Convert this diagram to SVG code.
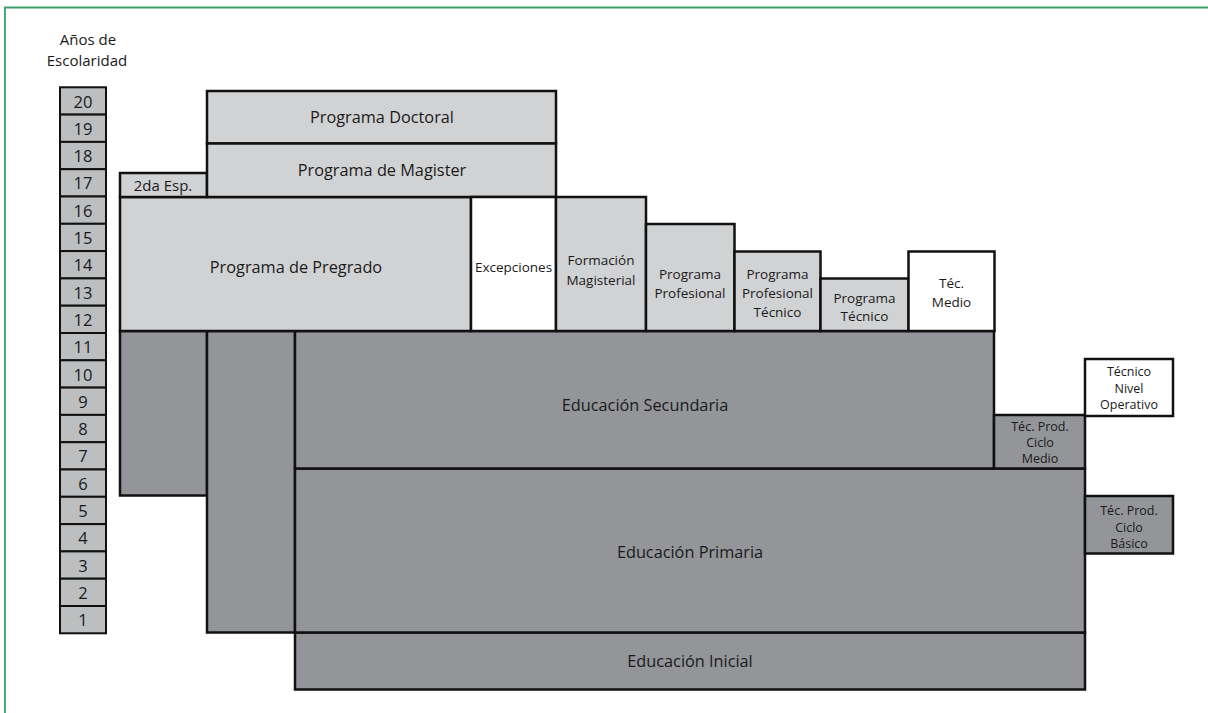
<svg xmlns="http://www.w3.org/2000/svg" width="1208" height="713" viewBox="0 0 1208 713">
<style>
.lt{fill:#d1d2d4;stroke:#111;stroke-width:2.5}
.dk{fill:#939598;stroke:#111;stroke-width:2.5}
.wh{fill:#fff;stroke:#111;stroke-width:2.5}
.yr{fill:#bcbec0;stroke:#111;stroke-width:2}
text{font-family:"Open Sans","Liberation Sans",sans-serif;fill:#1a1a1a;text-anchor:middle;dominant-baseline:central}
.t15{font-size:16.3px}
.t14{font-size:13.5px}
.t13{font-size:12.5px}
.tt{font-size:15px}
.ts{font-size:15px}
.yt{font-size:16.5px}
</style>
<rect width="1208" height="713" fill="#fff"/>
<polyline points="5,713 5,7.5 1208,7.5" fill="none" stroke="#3a9e68" stroke-width="1.8"/>
<g id="title">
<text class="tt" x="88" y="39">Años de</text>
<text class="tt" x="87" y="60">Escolaridad</text>
</g>
<g id="years">
<rect class="yr" x="60" y="87.3" width="46" height="27.3"/><text class="yt" x="83" y="101">20</text>
<rect class="yr" x="60" y="114.6" width="46" height="27.3"/><text class="yt" x="83" y="128.3">19</text>
<rect class="yr" x="60" y="141.9" width="46" height="27.3"/><text class="yt" x="83" y="155.6">18</text>
<rect class="yr" x="60" y="169.2" width="46" height="27.3"/><text class="yt" x="83" y="182.9">17</text>
<rect class="yr" x="60" y="196.5" width="46" height="27.3"/><text class="yt" x="83" y="210.2">16</text>
<rect class="yr" x="60" y="223.8" width="46" height="27.3"/><text class="yt" x="83" y="237.5">15</text>
<rect class="yr" x="60" y="251.1" width="46" height="27.3"/><text class="yt" x="83" y="264.8">14</text>
<rect class="yr" x="60" y="278.4" width="46" height="27.3"/><text class="yt" x="83" y="292.1">13</text>
<rect class="yr" x="60" y="305.7" width="46" height="27.3"/><text class="yt" x="83" y="319.4">12</text>
<rect class="yr" x="60" y="333" width="46" height="27.3"/><text class="yt" x="83" y="346.7">11</text>
<rect class="yr" x="60" y="360.3" width="46" height="27.3"/><text class="yt" x="83" y="374">10</text>
<rect class="yr" x="60" y="387.6" width="46" height="27.3"/><text class="yt" x="83" y="401.3">9</text>
<rect class="yr" x="60" y="414.9" width="46" height="27.3"/><text class="yt" x="83" y="428.6">8</text>
<rect class="yr" x="60" y="442.2" width="46" height="27.3"/><text class="yt" x="83" y="455.9">7</text>
<rect class="yr" x="60" y="469.5" width="46" height="27.3"/><text class="yt" x="83" y="483.2">6</text>
<rect class="yr" x="60" y="496.8" width="46" height="27.3"/><text class="yt" x="83" y="510.5">5</text>
<rect class="yr" x="60" y="524.1" width="46" height="27.3"/><text class="yt" x="83" y="537.8">4</text>
<rect class="yr" x="60" y="551.4" width="46" height="27.3"/><text class="yt" x="83" y="565.1">3</text>
<rect class="yr" x="60" y="578.7" width="46" height="27.3"/><text class="yt" x="83" y="592.4">2</text>
<rect class="yr" x="60" y="606" width="46" height="27.3"/><text class="yt" x="83" y="619.7">1</text>
</g>
<g id="col1">
<rect class="dk" x="120" y="331" width="87" height="164.5"/>
</g>
<g id="col2">
<rect class="dk" x="207" y="331" width="88" height="301.5"/>
</g>
<g id="inicial">
<rect class="dk" x="295" y="632.5" width="790" height="57"/>
<text class="t15" x="690" y="661">Educación Inicial</text>
</g>
<g id="primaria">
<rect class="dk" x="295" y="468.5" width="790" height="164"/>
<text class="t15" x="690" y="552">Educación Primaria</text>
</g>
<g id="secundaria">
<rect class="dk" x="295" y="331" width="699" height="137.5"/>
<text class="t15" x="645" y="405">Educación Secundaria</text>
</g>
<g id="tpcm">
<rect class="dk" x="994" y="415" width="91" height="53.5"/>
<text class="t13" x="1040" y="426">Téc. Prod.</text>
<text class="t13" x="1040" y="442.5">Ciclo</text>
<text class="t13" x="1040" y="458.5">Medio</text>
</g>
<g id="tno">
<rect class="wh" x="1085" y="359" width="88" height="57"/>
<text class="t13" x="1129" y="371.5">Técnico</text>
<text class="t13" x="1129" y="388">Nivel</text>
<text class="t13" x="1129" y="404.5">Operativo</text>
</g>
<g id="tpcb">
<rect class="dk" x="1085" y="496" width="88" height="57.5"/>
<text class="t13" x="1129" y="510.5">Téc. Prod.</text>
<text class="t13" x="1129" y="527">Ciclo</text>
<text class="t13" x="1129" y="543.5">Básico</text>
</g>
<g id="pregrado">
<rect class="lt" x="120" y="197" width="351" height="134"/>
<text class="t15" x="296" y="267">Programa de Pregrado</text>
</g>
<g id="esp">
<rect class="lt" x="120" y="173" width="87" height="24"/>
<text class="ts" x="163" y="185">2da Esp.</text>
</g>
<g id="doctoral">
<rect class="lt" x="207" y="91" width="349" height="52.5"/>
<text class="t15" x="382" y="117">Programa Doctoral</text>
</g>
<g id="magister">
<rect class="lt" x="207" y="143.5" width="349" height="53.5"/>
<text class="t15" x="382" y="170">Programa de Magister</text>
</g>
<g id="excepciones">
<rect class="wh" x="471" y="197" width="85" height="134"/>
<text class="t14" x="513.5" y="267">Excepciones</text>
</g>
<g id="magisterial">
<rect class="lt" x="556" y="197" width="90" height="134"/>
<text class="t14" x="601" y="260">Formación</text>
<text class="t14" x="601" y="279.5">Magisterial</text>
</g>
<g id="profesional">
<rect class="lt" x="646" y="224" width="88.5" height="107"/>
<text class="t14" x="690" y="273.5">Programa</text>
<text class="t14" x="690" y="292.5">Profesional</text>
</g>
<g id="proftecnico">
<rect class="lt" x="734.5" y="251.5" width="86" height="79.5"/>
<text class="t14" x="777.5" y="273.5">Programa</text>
<text class="t14" x="777.5" y="292.5">Profesional</text>
<text class="t14" x="777.5" y="311.5">Técnico</text>
</g>
<g id="tecnico">
<rect class="lt" x="820.5" y="278.5" width="88" height="52.5"/>
<text class="t14" x="864.5" y="297.5">Programa</text>
<text class="t14" x="864.5" y="316">Técnico</text>
</g>
<g id="tecmedio">
<rect class="wh" x="908.5" y="251.5" width="86" height="79.5"/>
<text class="t14" x="951.5" y="282.5">Téc.</text>
<text class="t14" x="951.5" y="302">Medio</text>
</g>
<g id="connectors"></g>
</svg>
